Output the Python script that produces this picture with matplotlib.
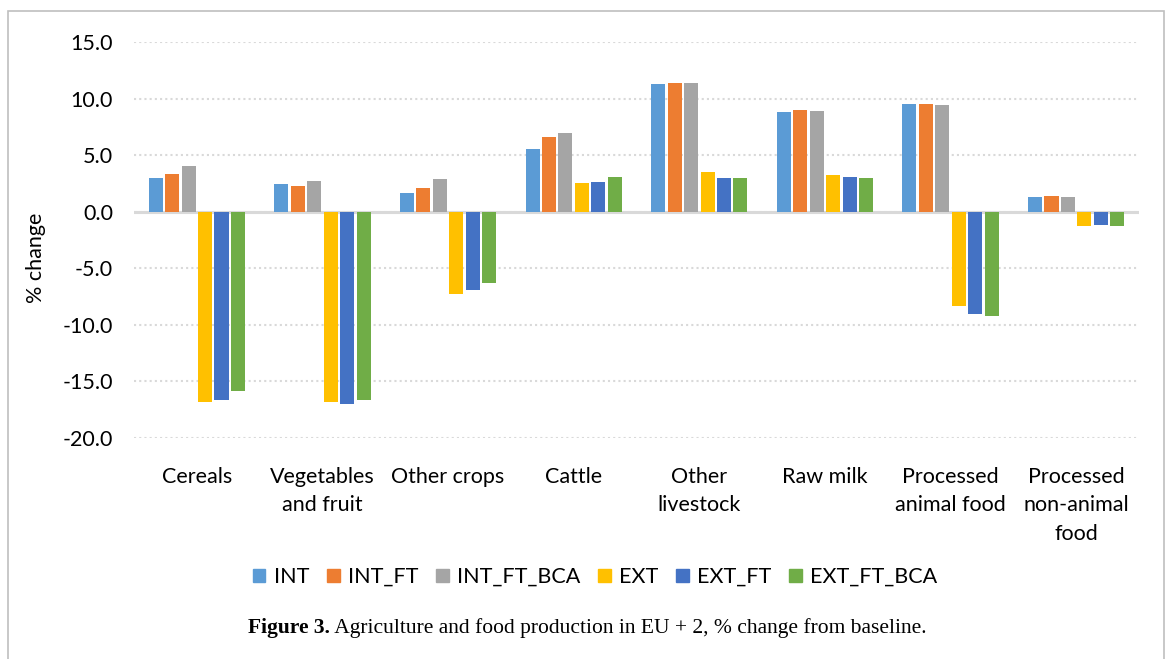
import matplotlib
matplotlib.use("Agg")
import matplotlib.pyplot as plt
import matplotlib.patches as mpatches
import numpy as np

categories = ["Cereals", "Vegetables\nand fruit", "Other crops", "Cattle", "Other\nlivestock",
              "Raw milk", "Processed\nanimal food", "Processed\nnon-animal\nfood"]
series_names = ["INT", "INT_FT", "INT_FT_BCA", "EXT", "EXT_FT", "EXT_FT_BCA"]
INT = [3.0, 2.45, 1.65, 5.55, 11.3, 8.8, 9.5, 1.3]
INT_FT = [3.35, 2.25, 2.1, 6.6, 11.4, 9.0, 9.5, 1.4]
INT_FT_BCA = [4.05, 2.7, 2.9, 6.95, 11.4, 8.9, 9.45, 1.3]
EXT = [-16.85, -16.85, -7.3, 2.55, 3.5, 3.25, -8.35, -1.25]
EXT_FT = [-16.65, -17.0, -6.95, 2.6, 3.0, 3.05, -9.05, -1.15]
EXT_FT_BCA = [-15.85, -16.65, -6.3, 3.05, 3.0, 3.0, -9.2, -1.25]
yticks = [15, 10, 5, 0, -5, -10, -15, -20]

series = [INT, INT_FT, INT_FT_BCA, EXT, EXT_FT, EXT_FT_BCA]
colors = ["#5B9BD5", "#ED7D31", "#A5A5A5", "#FFC000", "#4472C4", "#70AD47"]

W, H = 1167, 659
fig = plt.figure(figsize=(W / 100, H / 100), dpi=100)
fnt = "Lato"
fs = 15.5

# outer frame
fig.add_artist(mpatches.Rectangle((7.5 / W, -0.1), (1163.5 - 7.5) / W, 1.1 - 11 / H,
                                  transform=fig.transFigure, fill=False,
                                  edgecolor="#BFBFBF", lw=1.2))

ax = fig.add_axes([134 / W, 1 - 437.7 / H, (1139 - 134) / W, (437.7 - 42.3) / H])
ax.set_ylim(-20, 15)
ax.set_xlim(-0.5, len(categories) - 0.5)

step = 0.131
width = 0.112
x = np.arange(len(categories))
for j, (vals, c, name) in enumerate(zip(series, colors, series_names)):
    ax.bar(x + (j - 2.5) * step, vals, width=width, color=c, label=name, zorder=3)

ax.set_yticks(yticks)
ax.set_yticklabels([f"{v:.1f}" for v in yticks], fontsize=fs, family=fnt)
ax.yaxis.grid(True, linestyle=(0, (1, 1.5)), color="#D9D9D9", lw=1.5, zorder=0)
ax.axhline(0, color="#D9D9D9", lw=2.2, zorder=2)
for s in ax.spines.values():
    s.set_visible(False)
ax.tick_params(axis="y", length=0, pad=15)
ax.tick_params(axis="x", length=0, pad=21)
ax.set_xticks(x)
ax.set_xticklabels(categories, fontsize=fs, family=fnt, linespacing=1.52)

fig.text(36.5 / W, 1 - 258 / H, "% change", rotation=90, ha="center", va="center",
         fontsize=fs, family=fnt)

handles = [mpatches.Patch(color=c) for c in colors]
fig.legend(handles, series_names, loc="center", bbox_to_anchor=(595 / W, 1 - 577 / H),
           ncol=6, frameon=False, prop={"family": fnt, "size": fs},
           handlelength=0.6, handleheight=0.6, handletextpad=0.4, columnspacing=0.8)

t1 = fig.text(248 / W, 1 - 628 / H, "Figure 3.", fontsize=15.5, family="Liberation Serif",
              fontweight="bold", ha="left", va="center")
fig.canvas.draw()
ax.annotate(" Agriculture and food production in EU + 2, % change from baseline.",
            xy=(1, 0), xycoords=t1, ha="left", va="bottom", fontsize=15.5,
            family="Liberation Serif")

fig.savefig("out.png", dpi=100)
